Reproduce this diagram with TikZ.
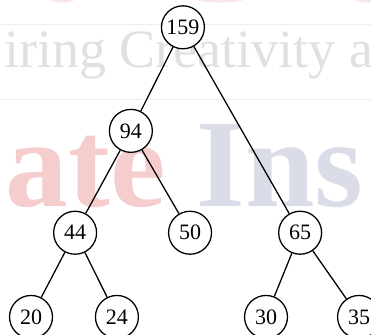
\documentclass[tikz,border=0pt]{standalone}
\usepackage{fontspec}
\setmainfont{Liberation Serif}
\definecolor{markgray}{RGB}{224,224,224}
\definecolor{markred}{RGB}{245,205,205}
\definecolor{markblue}{RGB}{218,220,231}
\definecolor{lightrule}{RGB}{238,238,238}
\tikzset{
  vertex/.style={draw, circle, fill=white, line width = 0.45mm, minimum size = 1.51cm, inner sep = 0pt, font=\fontsize{22}{22}\selectfont},
  edge/.style={line width = 0.45mm}
}
\begin{document}
\begin{tikzpicture}
\useasboundingbox (0,0) rectangle (13.04,11.77);
\clip (0,0) rectangle (13.04,11.77);

\fill[markred!50] (2.2,11.98) ellipse (0.6 and 0.3);
\fill[markred!50] (7.73,11.98) ellipse (1.2 and 0.3);
\fill[markred!50] (12.9,11.98) ellipse (0.6 and 0.3);

\draw[lightrule, line width = 0.3mm] (0,10.9) -- (13.04,10.9);
\draw[lightrule, line width = 0.3mm] (0,8.26) -- (13.04,8.26);

\node[anchor=base west, inner sep = 0pt, text=markgray, font=\fontsize{54}{54}\selectfont] (slogan) at (0.15,9.39) {iring Creativity a};
\node[anchor=base west, inner sep = 0pt, font=\bfseries\fontsize{125}{125}\selectfont] (brand) at (0.2,4.5) {\textcolor{markred}{ate} \textcolor{markblue}{Ins}};

\node[vertex] (n159) at (6.43,10.81) {159};
\node[vertex] (n94) at (4.6,7.17) {94};
\node[vertex] (n44) at (2.64,3.59) {44};
\node[vertex] (n50) at (6.68,3.59) {50};
\node[vertex] (n65) at (10.55,3.59) {65};
\node[vertex] (n20) at (1.09,0.63) {20};
\node[vertex] (n24) at (4.11,0.63) {24};
\node[vertex] (n30) at (9.35,0.63) {30};
\node[vertex] (n35) at (12.62,0.63) {35};

\draw[edge] (n159) -- (n94);
\draw[edge] (n159) -- (n65);
\draw[edge] (n94) -- (n44);
\draw[edge] (n94) -- (n50);
\draw[edge] (n44) -- (n20);
\draw[edge] (n44) -- (n24);
\draw[edge] (n65) -- (n30);
\draw[edge] (n65) -- (n35);
\end{tikzpicture}
\end{document}
